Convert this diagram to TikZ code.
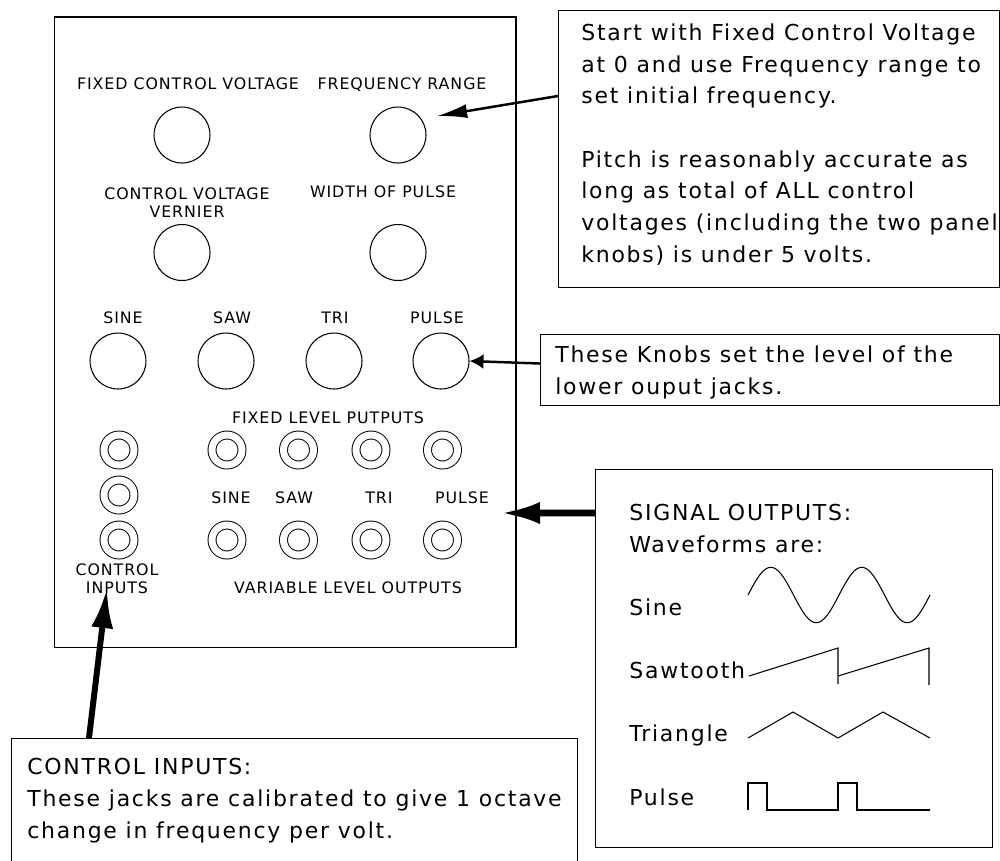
\documentclass[tikz,border=0pt]{standalone}
\usepackage{fontspec}
\setmainfont{DejaVu Sans}
\newfontfamily\panelfont[LetterSpace=6]{DejaVu Sans}
\newfontfamily\notefont[LetterSpace=8]{DejaVu Sans}
\usetikzlibrary{arrows.meta, positioning}

\begin{document}
\begin{tikzpicture}[
    x=0.02cm, y=-0.02cm,
    knob/.style={circle, draw, line width=0.6pt, minimum size=1.12cm, inner sep=0pt},
    jack/.style={circle, draw, double, double distance=0.14cm, line width=0.55pt, minimum size=0.6cm, inner sep=0pt},
    lbl/.style={anchor=base, inner sep=0pt, align=center, font=\panelfont\fontsize{9}{10.2}\selectfont},
    notebox/.style={draw, line width=0.6pt, anchor=north west, inner sep=0pt},
    notetext/.style={anchor=base west, inner sep=0pt, align=left, font=\notefont\fontsize{12.5}{18}\selectfont},
    arr/.style={-{Latex[length=0.6cm, width=0.28cm]}, line width=1.4pt},
    bigarr/.style={-{Latex[length=0.8cm, width=0.44cm]}, line width=3.8pt},
    wave/.style={line width=0.6pt}
]
\useasboundingbox (0,0) rectangle (1000,860);
\clip (0,0) rectangle (1000,860);

% Front panel
\draw[line width=0.6pt] (54.5,17) rectangle (516,647.5);

% Upper knobs
\node[lbl] (lfixed) at (188,89)  {FIXED CONTROL VOLTAGE};
\node[lbl] (lrange) at (402,89)  {FREQUENCY RANGE};
\node[knob] (kfixed) at (182,135) {};
\node[knob] (krange) at (398,135) {};
\node[lbl] (lvern)  at (187,217) {CONTROL VOLTAGE\\VERNIER};
\node[lbl] (lwidth) at (383,197) {WIDTH OF PULSE};
\node[knob] (kvern)  at (182,252.5) {};
\node[knob] (kwidth) at (398,252.5) {};

% Level knobs
\node[lbl] (lsine)  at (123,323) {SINE};
\node[lbl] (lsaw)   at (232,323) {SAW};
\node[lbl] (ltri)   at (335,323) {TRI};
\node[lbl] (lpulse) at (437,323) {PULSE};
\node[knob] (ksine)  at (118,361) {};
\node[knob] (ksaw)   at (226,361) {};
\node[knob] (ktri)   at (334,361) {};
\node[knob] (kpulse) at (441,361) {};

% Jacks
\node[lbl] (lfixout) at (328,423) {FIXED LEVEL PUTPUTS};
\node[jack] (cin1) at (119,450) {};
\node[jack] (cin2) at (119,495) {};
\node[jack] (cin3) at (119,540) {};
\node[jack] (fsine)  at (227,450) {};
\node[jack] (fsaw)   at (298.5,450) {};
\node[jack] (ftri)   at (371,450) {};
\node[jack] (fpulse) at (442.5,450) {};
\node[lbl] (lvsine)  at (231,503) {SINE};
\node[lbl] (lvsaw)   at (294,503) {SAW};
\node[lbl] (lvtri)   at (379,503) {TRI};
\node[lbl] (lvpulse) at (462,503) {PULSE};
\node[jack] (vsine)  at (227,540) {};
\node[jack] (vsaw)   at (298.5,540) {};
\node[jack] (vtri)   at (371,540) {};
\node[jack] (vpulse) at (442.5,540) {};
\node[lbl] (lcin)    at (117,593) {CONTROL\\INPUTS};
\node[lbl] (lvarout) at (348,593) {VARIABLE LEVEL OUTPUTS};

% Notes
\node[notebox, minimum width=8.82cm, minimum height=5.54cm] (freqnote) at (558,10) {};
\node[notetext] (freqtext) at (581,262)
  {Start with Fixed Control Voltage\\at 0 and use Frequency range to\\set initial frequency.\\[18pt]
   Pitch is reasonably accurate as\\long as total of ALL control\\voltages (including the two panel\\knobs) is under 5 volts.};
\node[notebox, minimum width=9.18cm, minimum height=1.42cm] (knobnote) at (540,334) {};
\node[notetext] (knobtext) at (555,394) {These Knobs set the level of the\\lower ouput jacks.};
\node[notebox, minimum width=7.94cm, minimum height=7.56cm] (signote) at (595,469) {};
\node[notetext] (sigtext) at (629,805)
  {SIGNAL OUTPUTS:\\Waveforms are:\\[18pt]Sine\\[18pt]Sawtooth\\[18pt]Triangle\\[18pt]Pulse};
\node[notebox, minimum width=11.32cm, minimum height=2.8cm] (ctrlnote) at (11,738) {};
\node[notetext] (ctrltext) at (27,838)
  {CONTROL INPUTS:\\These jacks are calibrated to give 1 octave\\change in frequency per volt.};

% Waveforms
\draw[wave] plot[domain=0:720, samples=97, smooth] ({748+\x*0.2528},{595-27.7*sin(\x)});
\draw[wave] (749,676) -- (838,648) -- (838,684) (838,676) -- (929,648) -- (929,685);
\draw[wave] (748,738) -- (793,712) -- (838,738) -- (883,712) -- (930,738);
\draw[wave] (748,810) -- (748,783) -- (767,783) -- (767,810) -- (838,810) -- (838,783) -- (857,783) -- (857,810) -- (930,810);

% Arrows
\coordinate (sigtip) at (500,513);
\coordinate (ctrltip) at (107,588);
\draw[arr, shorten >=0.32cm] ([yshift=-1.72cm]freqnote.north west) -- (krange.35);
\draw[arr, -{Latex[length=0.28cm, width=0.3cm]}] ([yshift=0.13cm]knobnote.west) -- (kpulse.east);
\draw[bigarr] ([yshift=-0.88cm]signote.north west) -- (sigtip);
\draw[bigarr, line width=3.4pt] ([xshift=1.56cm]ctrlnote.north west) -- (ctrltip);
\end{tikzpicture}
\end{document}
